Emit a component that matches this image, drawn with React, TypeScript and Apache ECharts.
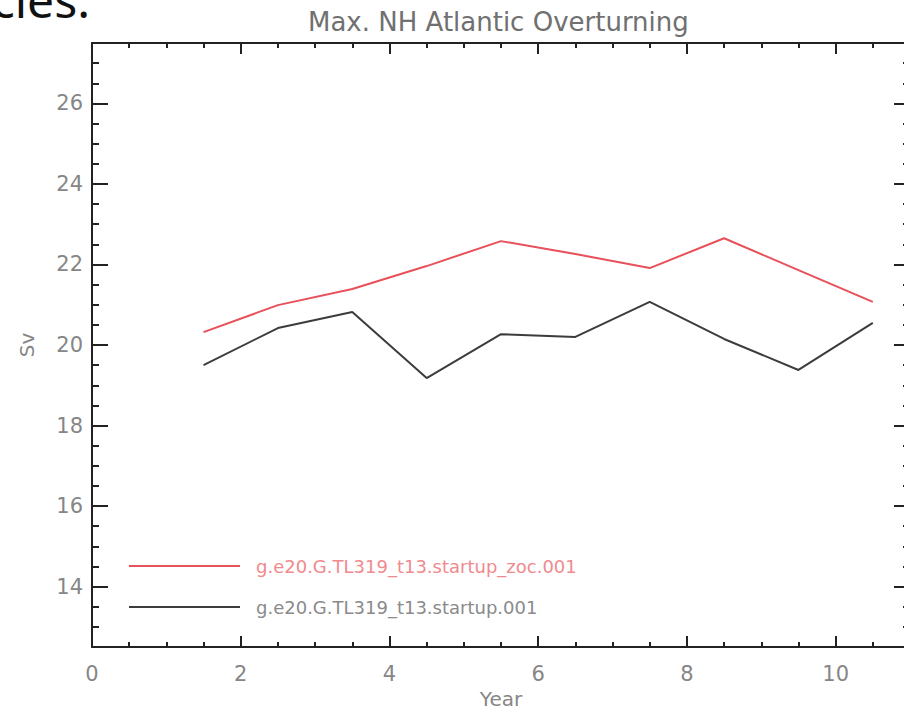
import React, { useEffect, useRef } from "react";
import * as echarts from "echarts";

const years = [1.5, 2.5, 3.5, 4.5, 5.5, 6.5, 7.5, 8.5, 9.5, 10.5];
const zocValues = [20.32, 20.99, 21.39, 21.96, 22.58, 22.26, 21.91, 22.65, 21.86, 21.07];
const baseValues = [19.5, 20.42, 20.82, 19.18, 20.27, 20.2, 21.07, 20.15, 19.38, 20.55];
const yMajorTicks = [14, 16, 18, 20, 22, 24, 26];
const seriesNames = ["g.e20.G.TL319_t13.startup_zoc.001", "g.e20.G.TL319_t13.startup.001"];

const FONT = "DejaVu Sans";
const LABEL_COLOR = "#868686";
const AXIS_COLOR = "#222";
const RED = "#e8505a";
const DARK = "#3c3c3c";

export default function App() {
  const ref = useRef<HTMLDivElement>(null);
  useEffect(() => {
    if (!ref.current) return;
    const chart = echarts.init(ref.current, undefined, { renderer: "svg" });
    const axisLine = { show: true, onZero: false, lineStyle: { color: AXIS_COLOR, width: 2 } };
    const hiddenLine = { show: false, onZero: false };
    const noLabel = { show: false };
    const noSplit = { show: false };
    const tickStyle = { color: AXIS_COLOR, width: 2 };
    const xBase = { type: "value", min: 0, max: 11, gridIndex: 0 };
    const yBase = { type: "value", min: 12.5, max: 27.5, gridIndex: 0 };
    chart.setOption({
      animation: false,
      backgroundColor: "#fff",
      title: {
        text: "Max. NH Atlantic Overturning",
        left: 303,
        top: 4,
        textStyle: { fontFamily: FONT, fontSize: 26, fontWeight: "normal", color: "#707070" },
      },
      graphic: [
        {
          type: "text",
          right: 814,
          top: -25,
          style: { text: "cies.", font: "48px 'Liberation Sans Narrow', 'Noto Sans', sans-serif", fill: "#111" },
        },
      ],
      legend: {
        orient: "vertical",
        left: 129,
        top: 556,
        padding: 0,
        itemWidth: 111,
        itemHeight: 2,
        itemGap: 21,
        icon: "rect",
        selectedMode: false,
        textStyle: { fontFamily: FONT, fontSize: 18, lineHeight: 20, padding: [0, 0, 0, 11] },
        data: [
          { name: seriesNames[0], textStyle: { color: "#f08a8e" } },
          { name: seriesNames[1], textStyle: { color: "#8a8a8a" } },
        ],
      },
      grid: {
        left: 92,
        top: 43,
        width: 818,
        height: 604,
        containLabel: false,
        outerBoundsMode: "none",
      },
      xAxis: [
        {
          ...xBase,
          position: "bottom",
          interval: 2,
          axisLine,
          axisTick: { show: true, inside: true, length: 11, lineStyle: tickStyle },
          axisLabel: {
            show: true,
            margin: 16,
            fontFamily: FONT,
            fontSize: 21,
            color: LABEL_COLOR,
            formatter: (v: number) => (v > 10 ? "" : String(v)),
          },
          splitLine: noSplit,
          name: "Year",
          nameLocation: "middle",
          nameGap: 42,
          nameTextStyle: { fontFamily: FONT, fontSize: 20, color: LABEL_COLOR },
        },
        {
          ...xBase,
          position: "bottom",
          interval: 0.5,
          axisLine: hiddenLine,
          axisTick: { show: true, inside: true, length: 5, lineStyle: tickStyle },
          axisLabel: noLabel,
          splitLine: noSplit,
        },
        {
          ...xBase,
          position: "top",
          interval: 2,
          axisLine,
          axisTick: { show: true, inside: true, length: 11, lineStyle: tickStyle },
          axisLabel: noLabel,
          splitLine: noSplit,
        },
        {
          ...xBase,
          position: "top",
          interval: 0.5,
          axisLine: hiddenLine,
          axisTick: { show: true, inside: true, length: 5, lineStyle: tickStyle },
          axisLabel: noLabel,
          splitLine: noSplit,
        },
      ],
      yAxis: [
        {
          ...yBase,
          position: "left",
          axisLine,
          axisTick: { show: true, inside: true, length: 16, customValues: yMajorTicks, lineStyle: tickStyle },
          axisLabel: {
            show: true,
            customValues: yMajorTicks,
            margin: 9,
            fontFamily: FONT,
            fontSize: 21,
            color: LABEL_COLOR,
          },
          splitLine: noSplit,
          name: "Sv",
          nameLocation: "middle",
          nameGap: 55,
          nameRotate: 90,
          nameTextStyle: { fontFamily: FONT, fontSize: 20, color: LABEL_COLOR },
        },
        {
          ...yBase,
          position: "left",
          interval: 0.5,
          axisLine: hiddenLine,
          axisTick: { show: true, inside: true, length: 7, lineStyle: tickStyle },
          axisLabel: noLabel,
          splitLine: noSplit,
        },
        {
          ...yBase,
          position: "right",
          axisLine,
          axisTick: { show: true, inside: true, length: 16, customValues: yMajorTicks, lineStyle: tickStyle },
          axisLabel: noLabel,
          splitLine: noSplit,
        },
        {
          ...yBase,
          position: "right",
          interval: 0.5,
          axisLine: hiddenLine,
          axisTick: { show: true, inside: true, length: 7, lineStyle: tickStyle },
          axisLabel: noLabel,
          splitLine: noSplit,
        },
      ],
      series: [
        {
          name: seriesNames[0],
          type: "line",
          xAxisIndex: 0,
          yAxisIndex: 0,
          data: years.map((x, i) => [x, zocValues[i]]),
          showSymbol: false,
          symbol: "none",
          lineStyle: { color: RED, width: 2 },
          itemStyle: { color: RED },
        },
        {
          name: seriesNames[1],
          type: "line",
          xAxisIndex: 0,
          yAxisIndex: 0,
          data: years.map((x, i) => [x, baseValues[i]]),
          showSymbol: false,
          symbol: "none",
          lineStyle: { color: DARK, width: 2 },
          itemStyle: { color: DARK },
        },
      ],
    });
    return () => chart.dispose();
  }, []);
  return (
    <div
      ref={ref}
      style={{ position: "absolute", left: 0, top: 0, width: 904, height: 710 }}
    />
  );
}
